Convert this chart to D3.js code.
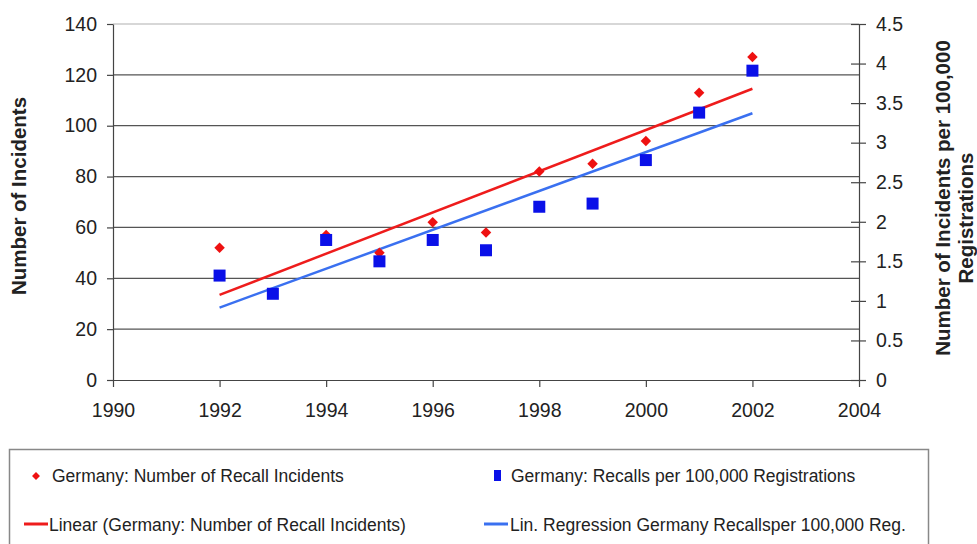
<!DOCTYPE html>
<html>
<head>
<meta charset="utf-8">
<script src="https://cdn.jsdelivr.net/npm/d3@7"></script>
<style>
  body { margin: 0; background: #fff; }
  svg text { font-family: "Liberation Sans", Arial, sans-serif; fill: #222; }
  .tick text { font-size: 19.5px; }
  .axis-title { font-size: 20.5px; font-weight: bold; }
  .legend text { font-size: 17.5px; }
</style>
</head>
<body>
<div id="chart"></div>
<script>
// data
const years = [1992, 1993, 1994, 1995, 1996, 1997, 1998, 1999, 2000, 2001, 2002];
const recallIncidents = [52, 34, 57, 50, 62, 58, 82, 85, 94, 113, 127];
const recallsPer100k = [1.32, 1.09, 1.77, 1.50, 1.77, 1.64, 2.19, 2.23, 2.78, 3.38, 3.91];
const xTicks = [1990, 1992, 1994, 1996, 1998, 2000, 2002, 2004];
const leftTicks = [0, 20, 40, 60, 80, 100, 120, 140];
const rightTicks = [0, 0.5, 1, 1.5, 2, 2.5, 3, 3.5, 4, 4.5];
const legendLabels = [
  'Germany: Number of Recall Incidents',
  'Germany: Recalls per 100,000 Registrations',
  'Linear (Germany: Number of Recall Incidents)',
  'Lin. Regression Germany Recallsper 100,000 Reg.'
];

const width = 977, height = 544;
const margin = {top: 24, right: 118, bottom: 164, left: 113};
const w = width - margin.left - margin.right;
const h = height - margin.top - margin.bottom;

const redColor = '#ee1111', blueMark = '#0a10e8', redLine = '#ee1c1c', blueLine = '#3a70f0';

// least squares fit, used for the two trend lines
function linFit(xs, ys) {
  const mx = d3.mean(xs), my = d3.mean(ys);
  let num = 0, den = 0;
  xs.forEach((x, i) => { num += (x - mx) * (ys[i] - my); den += (x - mx) * (x - mx); });
  const b = num / den;
  return x => my + b * (x - mx);
}

const svg = d3.select('#chart').append('svg')
  .attr('width', width)
  .attr('height', height);

const chart = svg.append('g')
  .attr('transform', `translate(${margin.left},${margin.top})`);

const xScale = d3.scaleLinear().domain([1990, 2004]).range([0, w]);
const yLeft = d3.scaleLinear().domain([0, 140]).range([h, 0]);
const yRight = d3.scaleLinear().domain([0, 4.5]).range([h, 0]);

// horizontal gridlines
chart.selectAll('.grid')
  .data(leftTicks.filter(d => d > 0))
  .enter().append('line')
  .attr('class', 'grid')
  .attr('x1', 0).attr('x2', w)
  .attr('y1', d => yLeft(d)).attr('y2', d => yLeft(d))
  .attr('stroke', d => d === 140 ? '#b0b0b0' : '#555')
  .attr('stroke-width', 1.2);

const xAxis = d3.axisBottom(xScale).tickValues(xTicks).tickFormat(d3.format('d')).tickSize(7).tickSizeOuter(0).tickPadding(16);
const yAxisL = d3.axisLeft(yLeft).tickValues(leftTicks).tickSize(6).tickSizeOuter(0).tickPadding(10);
const yAxisR = d3.axisRight(yRight).tickValues(rightTicks).tickFormat(d3.format('~g')).tickSize(7).tickSizeOuter(0).tickPadding(10);

const xG = chart.append('g').attr('transform', `translate(0,${h})`).call(xAxis);
const yLG = chart.append('g').call(yAxisL);
const yRG = chart.append('g').attr('transform', `translate(${w},0)`).call(yAxisR);

[xG, yLG, yRG].forEach(g => {
  g.selectAll('path, line').attr('stroke', '#444').attr('stroke-width', 1.2);
  g.selectAll('text').attr('fill', '#222');
});
// right axis ticks cross the axis line
yRG.selectAll('.tick line').attr('x1', -8);

// trend lines
const redFit = linFit(years, recallIncidents);
const blueFit = linFit(years, recallsPer100k);
const ends = [years[0], years[years.length - 1]];

chart.append('path')
  .attr('fill', 'none').attr('stroke', redLine).attr('stroke-width', 2.5)
  .attr('d', d3.line().x(d => xScale(d)).y(d => yLeft(redFit(d)))(ends));
chart.append('path')
  .attr('fill', 'none').attr('stroke', blueLine).attr('stroke-width', 2.5)
  .attr('d', d3.line().x(d => xScale(d)).y(d => yRight(blueFit(d)))(ends));

// markers
const diamond = d3.symbol().type(d3.symbolDiamond2).size(70);
chart.selectAll('.dia')
  .data(years.map((y, i) => ({year: y, v: recallIncidents[i]})))
  .enter().append('path')
  .attr('class', 'dia')
  .attr('d', diamond)
  .attr('fill', redColor)
  .attr('transform', d => `translate(${xScale(d.year)},${yLeft(d.v)})`);

chart.selectAll('.sq')
  .data(years.map((y, i) => ({year: y, v: recallsPer100k[i]})))
  .enter().append('rect')
  .attr('class', 'sq')
  .attr('x', d => xScale(d.year) - 6)
  .attr('y', d => yRight(d.v) - 6)
  .attr('width', 12).attr('height', 12)
  .attr('fill', blueMark);

// axis titles
svg.append('text')
  .attr('class', 'axis-title')
  .attr('transform', 'translate(26,196) rotate(-90)')
  .style('text-anchor', 'middle')
  .text('Number of Incidents');

svg.append('text')
  .attr('class', 'axis-title')
  .attr('transform', 'translate(950,198) rotate(-90)')
  .style('text-anchor', 'middle')
  .text('Number of Incidents per 100,000');
svg.append('text')
  .attr('class', 'axis-title')
  .attr('transform', 'translate(973,218) rotate(-90)')
  .style('text-anchor', 'middle')
  .text('Registrations');

// legend
const legend = svg.append('g').attr('class', 'legend');
legend.append('rect')
  .attr('x', 9.5).attr('y', 449.5)
  .attr('width', 919).attr('height', 110)
  .attr('fill', '#fff').attr('stroke', '#888').attr('stroke-width', 1.5);

legend.append('path')
  .attr('d', d3.symbol().type(d3.symbolDiamond2).size(40))
  .attr('fill', redColor)
  .attr('transform', 'translate(36,476)');
legend.append('rect')
  .attr('x', 494).attr('y', 470).attr('width', 7).attr('height', 11)
  .attr('fill', blueMark);
legend.append('line')
  .attr('x1', 24).attr('x2', 48).attr('y1', 524).attr('y2', 524)
  .attr('stroke', redLine).attr('stroke-width', 3);
legend.append('line')
  .attr('x1', 484).attr('x2', 508).attr('y1', 524).attr('y2', 524)
  .attr('stroke', blueLine).attr('stroke-width', 3);

const legendPos = [[52, 482], [511, 482], [49, 531], [510, 531]];
legend.selectAll('.lt')
  .data(legendLabels)
  .enter().append('text')
  .attr('class', 'lt')
  .attr('x', (d, i) => legendPos[i][0])
  .attr('y', (d, i) => legendPos[i][1])
  .text(d => d);
</script>
</body>
</html>
